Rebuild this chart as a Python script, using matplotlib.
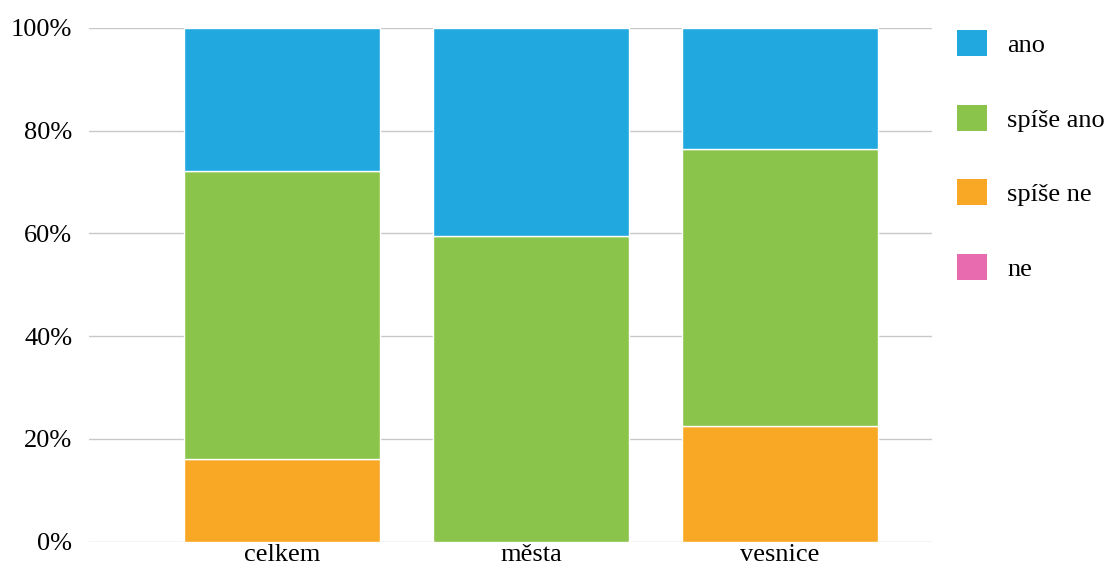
import numpy as np
import matplotlib
matplotlib.use('Agg')
from matplotlib import pyplot as plt
from matplotlib.patches import Patch

categories = ['celkem', 'města', 'vesnice']
ne = [0.0, 0.0, 0.0]
spise_ne = [16.1, 0.0, 22.4]
spise_ano = [56.0, 59.5, 54.0]
ano = [27.9, 40.5, 23.6]

series = [('ne', ne, '#e76bae'),
          ('spíše ne', spise_ne, '#f9a825'),
          ('spíše ano', spise_ano, '#8bc44a'),
          ('ano', ano, '#20a8df')]

plt.rcParams['font.family'] = ['Liberation Serif', 'DejaVu Serif']

fig = plt.figure(figsize=(11.14, 5.69), dpi=100)
ax = fig.add_axes([0.080, 0.0483, 0.7566, 0.9025])

x = np.arange(len(categories))
bottom = np.zeros(len(categories))
handles = []
for name, vals, col in series:
    ax.bar(x, vals, bottom=bottom, width=0.79, color=col, edgecolor='white',
           linewidth=1, zorder=2)
    bottom += np.array(vals)
    handles.append(Patch(facecolor=col, edgecolor='none', label=name))

ax.set_ylim(0, 100)
ax.set_xlim(-0.775, 2.61)
ax.set_yticks([0, 20, 40, 60, 80, 100])
ax.set_yticklabels([f'{v}%' for v in [0, 20, 40, 60, 80, 100]], fontsize=19)
ax.set_xticks(x)
ax.set_xticklabels(categories, fontsize=19)
ax.tick_params(length=0)
ax.tick_params(axis='y', pad=12)
ax.tick_params(axis='x', pad=2)
for s in ax.spines.values():
    s.set_visible(False)
ax.grid(axis='y', color='#c8c8c8', linewidth=1, zorder=0)
ax.set_axisbelow(True)

ax.legend(handles=handles[::-1], loc='upper left',
          bbox_to_anchor=(957 / 1114, 1 - 30 / 569), bbox_transform=fig.transFigure,
          frameon=False, fontsize=19, handlelength=1.15, handleheight=1.15,
          handletextpad=0.75, labelspacing=1.8, borderaxespad=0, borderpad=0)

fig.savefig('out.png', dpi=100)
